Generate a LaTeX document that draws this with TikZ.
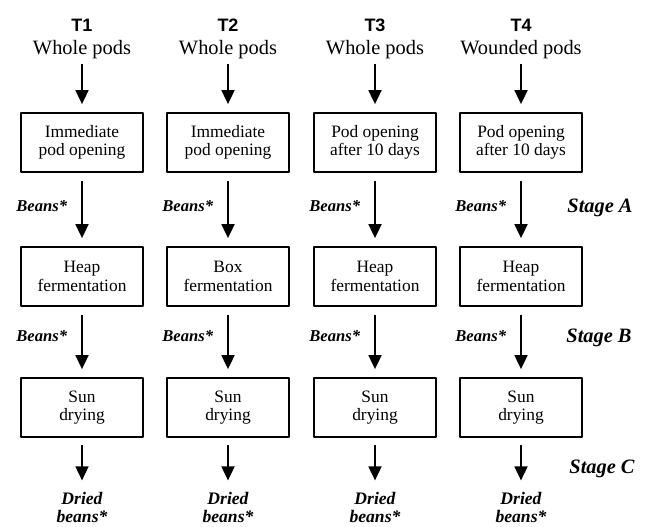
\documentclass[tikz,border=0pt]{standalone}
\usepackage{fontspec}
\setmainfont{Liberation Serif}
\newfontfamily\headfont{Liberation Sans}
\usetikzlibrary{arrows.meta}
\begin{document}
\begin{tikzpicture}[x=0.5pt, y=-0.5pt, line join=round,
		>={Triangle[width=6.5pt,length=7pt]},
		head/.style={font=\headfont\bfseries\fontsize{9}{10}\selectfont, inner sep=0pt},
		pods/.style={font=\fontsize{10.2}{12}\selectfont, inner sep=0pt},
		proc/.style={draw, line width=0.9pt, minimum width=61pt, minimum height=29.5pt,
			inner sep=0pt, align=center, font=\fontsize{8.7}{9.2}\selectfont},
		flow/.style={->, line width=0.9pt, shorten <=4pt, shorten >=4pt},
		beans/.style={left, inner sep=0pt, xshift=-7pt,
			font=\bfseries\itshape\fontsize{8.3}{9}\selectfont},
		dried/.style={align=center, inner sep=1.5pt,
			font=\bfseries\itshape\fontsize{8.8}{9}\selectfont},
		stage/.style={font=\bfseries\itshape\fontsize{10.2}{12}\selectfont}]
	\useasboundingbox (0,0) rectangle (648,526);
	% one column per treatment
	\foreach \x/\t/\pod/\open/\ferm [count=\i] in
		{82/T1/Whole/Immediate\\pod opening/Heap,
		 228/T2/Whole/Immediate\\pod opening/Box,
		 375/T3/Whole/Pod opening\\after 10 days/Heap,
		 521/T4/Wounded/Pod opening\\after 10 days/Heap}
	{
		\node[head] (t\i) at (\x,25) {\t};
		\node[pods] (pod\i) at (\x,50) {\pod{} pods};
		\node[proc] (open\i) at (\x,142.5) {\open};
		\node[proc] (ferm\i) at (\x,276.5) {\ferm\\fermentation};
		\node[proc] (dry\i) at (\x,407.5) {Sun\\drying};
		\node[dried] (out\i) at (\x,507) {Dried\\beans*};
		\draw[flow, shorten <=2pt] (pod\i) -- (open\i);
		\draw[flow] (open\i) -- node[beans, pos=0.45] (ba\i) {Beans*} (ferm\i);
		\draw[flow] (ferm\i) -- node[beans, pos=0.42] (bb\i) {Beans*} (dry\i);
		\draw[flow, shorten <=3.5pt] (dry\i) -- (out\i);
	}
	\node[stage] (stA) at (600,208) {Stage A};
	\node[stage] (stB) at (599,338) {Stage B};
	\node[stage] (stC) at (602,469) {Stage C};
\end{tikzpicture}
\end{document}
